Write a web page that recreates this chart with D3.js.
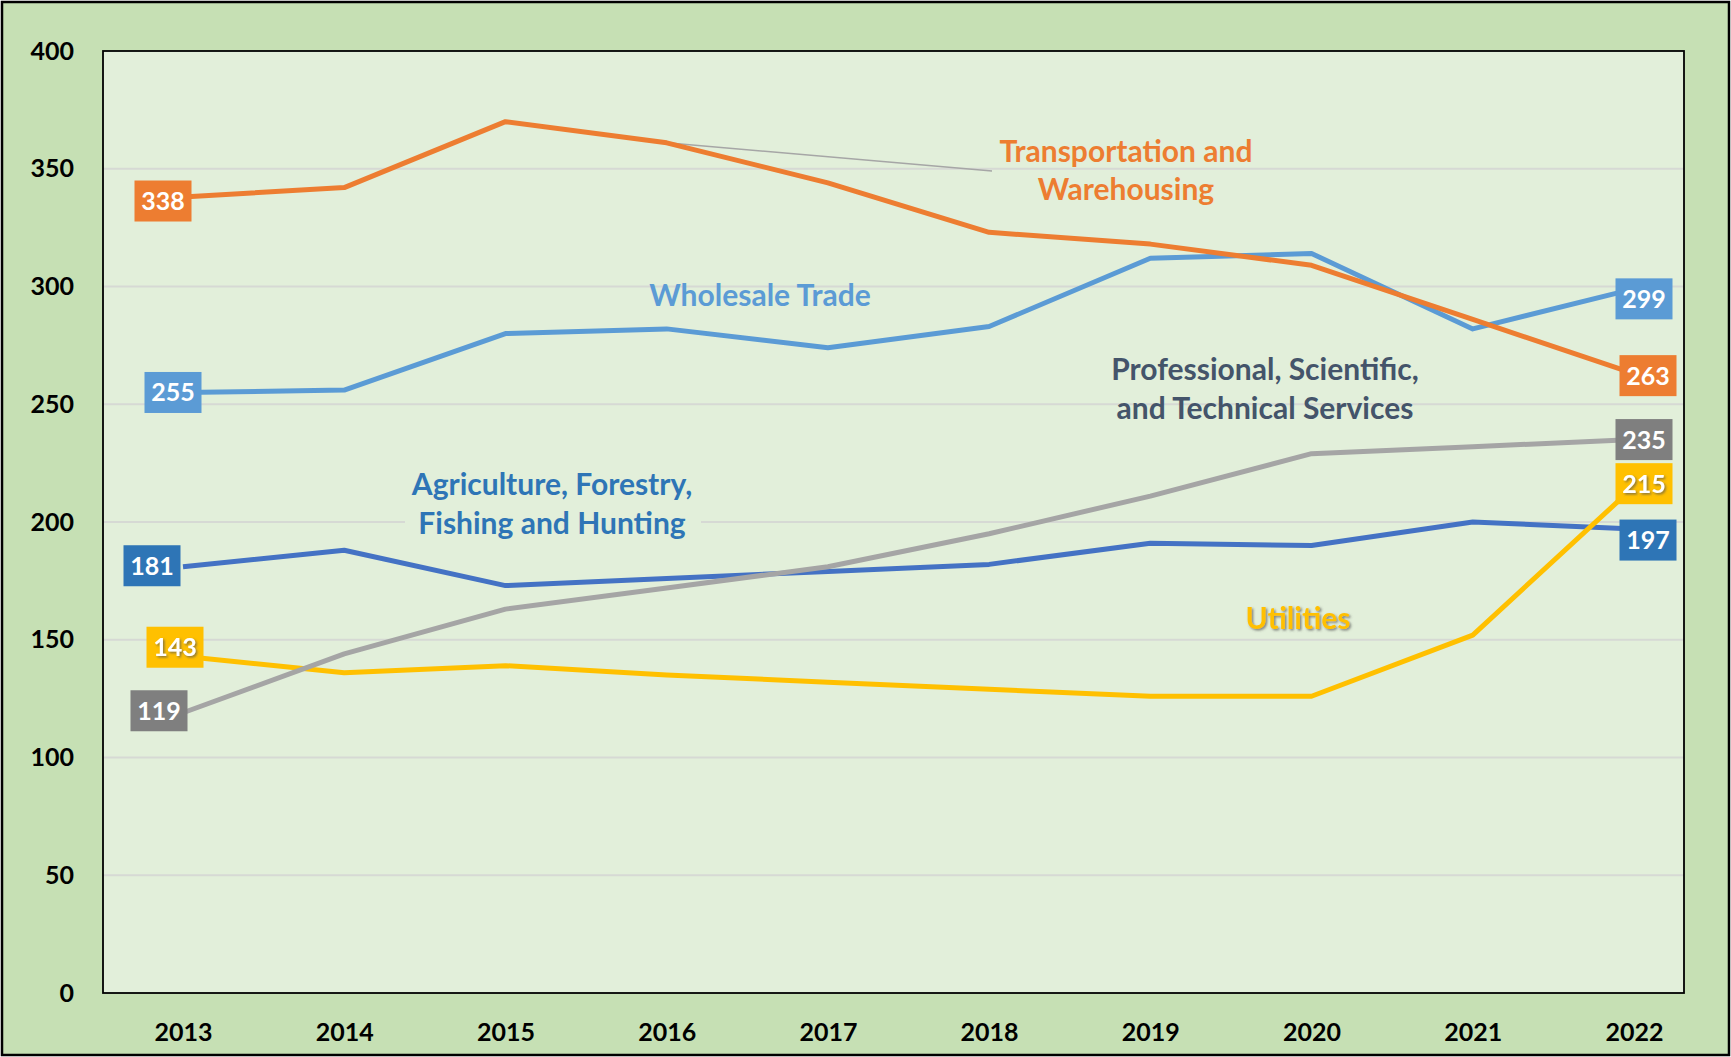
<!DOCTYPE html>
<html>

<head>
  <meta charset="utf-8">
  <title>Industry lines</title>
  <style>
    body { margin: 0; background: #fff; }
    svg text { font-family: Lato, "Open Sans", sans-serif; font-weight: bold; }
  </style>
</head>

<body>

  <svg id="main" width="1731" height="1057"></svg>

  <script src="https://cdn.jsdelivr.net/npm/d3@7"></script>
  <script>

    // data
    const years = [2013, 2014, 2015, 2016, 2017, 2018, 2019, 2020, 2021, 2022]
    const transportation = [338, 342, 370, 361, 344, 323, 318, 309, 286, 263]
    const wholesale = [255, 256, 280, 282, 274, 283, 312, 314, 282, 299]
    const agriculture = [181, 188, 173, 176, 179, 182, 191, 190, 200, 197]
    const professional = [119, 144, 163, 172, 181, 195, 211, 229, 232, 235]
    const utilities = [143, 136, 139, 135, 132, 129, 126, 126, 152, 215]
    const yTicks = [0, 50, 100, 150, 200, 250, 300, 350, 400]

    const svg = d3.select('#main')
    const width = +svg.attr('width')
    const height = +svg.attr('height')
    const plot = { left: 103, top: 51, right: 1684, bottom: 993 }

    const x = d3.scalePoint().domain(years).range([183, 1634])
    const y = d3.scaleLinear().domain([0, 400]).range([plot.bottom, plot.top])

    // drawing order and styles (bottom to top)
    const series = [
      { name: 'wholesale', values: wholesale, line: '#5b9bd5', box: '#5b9bd5',
        left: [-10, 0], right: [10, 10] },
      { name: 'agriculture', values: agriculture, line: '#4472c4', box: '#2e75b6',
        left: [-31, -1], right: [14, 11] },
      { name: 'utilities', values: utilities, line: '#ffc000', box: '#ffc000',
        left: [-8, -9], right: [10, -3], shadow: true },
      { name: 'professional', values: professional, line: '#a5a5a5', box: '#7f7f7f',
        left: [-24, -2], right: [10, 0] },
      { name: 'transportation', values: transportation, line: '#ed7d31', box: '#ed7d31',
        left: [-20, 4], right: [14, 2] }
    ]

    const defs = svg.append('defs')
    defs.append('filter').attr('id', 'shadow')
      .attr('x', '-20%').attr('y', '-20%').attr('width', '140%').attr('height', '140%')
      .append('feDropShadow')
      .attr('dx', 1.5).attr('dy', 1.5).attr('stdDeviation', 0.8)
      .attr('flood-color', '#555').attr('flood-opacity', 0.7)

    // backgrounds
    svg.append('rect')
      .attr('x', 2).attr('y', 2).attr('width', width - 4).attr('height', height - 4)
      .attr('fill', '#c6e0b4').attr('stroke', '#000').attr('stroke-width', 2.5)

    svg.append('rect')
      .attr('x', plot.left).attr('y', plot.top)
      .attr('width', plot.right - plot.left).attr('height', plot.bottom - plot.top)
      .attr('fill', '#e2efda')

    // gridlines
    svg.append('g')
      .selectAll('line')
      .data(yTicks.filter(d => d > 0 && d < 400))
      .join('line')
      .attr('x1', plot.left).attr('x2', plot.right)
      .attr('y1', d => y(d)).attr('y2', d => y(d))
      .attr('stroke', '#d6d9d4').attr('stroke-width', 1.8)

    // patch behind the agriculture note hides the 200 gridline
    svg.append('rect')
      .attr('x', 405).attr('y', y(200) - 4).attr('width', 296).attr('height', 8)
      .attr('fill', '#e2efda')

    // axes
    const yAxis = svg.append('g')
      .attr('transform', `translate(${plot.left},0)`)
      .call(d3.axisLeft(y).tickValues(yTicks).tickSize(0).tickPadding(29))
    yAxis.select('.domain').remove()
    yAxis.selectAll('text').attr('font-size', 25).attr('fill', '#000')
      .style('font-family', 'Lato, sans-serif').style('font-weight', 'bold')

    const xAxis = svg.append('g')
      .attr('transform', `translate(0,${plot.bottom})`)
      .call(d3.axisBottom(x).tickSize(0).tickPadding(30).tickFormat(d3.format('d')))
    xAxis.select('.domain').remove()
    xAxis.selectAll('text').attr('font-size', 25).attr('fill', '#000')
      .style('font-family', 'Lato, sans-serif').style('font-weight', 'bold')

    // plot frame
    svg.append('rect')
      .attr('x', plot.left).attr('y', plot.top)
      .attr('width', plot.right - plot.left).attr('height', plot.bottom - plot.top)
      .attr('fill', 'none').attr('stroke', '#000').attr('stroke-width', 1.8)

    // leader line for transportation note
    svg.append('line')
      .attr('x1', x(2016)).attr('y1', y(transportation[3]))
      .attr('x2', 992).attr('y2', 171)
      .attr('stroke', '#a6a6a6').attr('stroke-width', 1.5)

    // lines
    const line = d3.line()
      .x((d, i) => x(years[i]))
      .y(d => y(d))

    svg.append('g')
      .selectAll('path')
      .data(series)
      .join('path')
      .attr('d', d => line(d.values))
      .attr('fill', 'none')
      .attr('stroke', d => d.line)
      .attr('stroke-width', 5)
      .attr('stroke-linejoin', 'round')

    // end labels
    const boxW = 57, boxH = 41
    const labels = []
    series.forEach(s => {
      labels.push({ s, i: 0, off: s.left })
      labels.push({ s, i: years.length - 1, off: s.right })
    })

    const lab = svg.append('g')
      .selectAll('g')
      .data(labels)
      .join('g')
      .attr('transform', d => `translate(${x(years[d.i]) + d.off[0]},${y(d.s.values[d.i]) + d.off[1]})`)

    lab.append('rect')
      .attr('x', -boxW / 2).attr('y', -boxH / 2)
      .attr('width', boxW).attr('height', boxH)
      .attr('fill', d => d.s.box)

    lab.append('text')
      .attr('text-anchor', 'middle')
      .attr('dy', '0.36em')
      .attr('font-size', 25)
      .attr('fill', '#fff')
      .attr('filter', d => d.s.shadow ? 'url(#shadow)' : null)
      .text(d => d.s.values[d.i])

    // series notes
    const notes = [
      { lines: ['Transportation and', 'Warehousing'], color: '#ed7d31', x: 1126, y: 162, gap: 38 },
      { lines: ['Wholesale Trade'], color: '#5b9bd5', x: 760, y: 306, gap: 0 },
      { lines: ['Professional, Scientific,', 'and Technical Services'], color: '#44546a', x: 1265, y: 380, gap: 39 },
      { lines: ['Agriculture, Forestry,', 'Fishing and Hunting'], color: '#2e75b6', x: 552, y: 495, gap: 39 },
      { lines: ['Utilities'], color: '#ffc000', x: 1298, y: 629, gap: 0, shadow: true }
    ]

    notes.forEach(n => {
      const t = svg.append('text')
        .attr('text-anchor', 'middle')
        .attr('font-size', 30)
        .attr('fill', n.color)
        .attr('filter', n.shadow ? 'url(#shadow)' : null)
      n.lines.forEach((l, i) => {
        t.append('tspan').attr('x', n.x).attr('y', n.y + i * n.gap).text(l)
      })
    })

  </script>
</body>

</html>
